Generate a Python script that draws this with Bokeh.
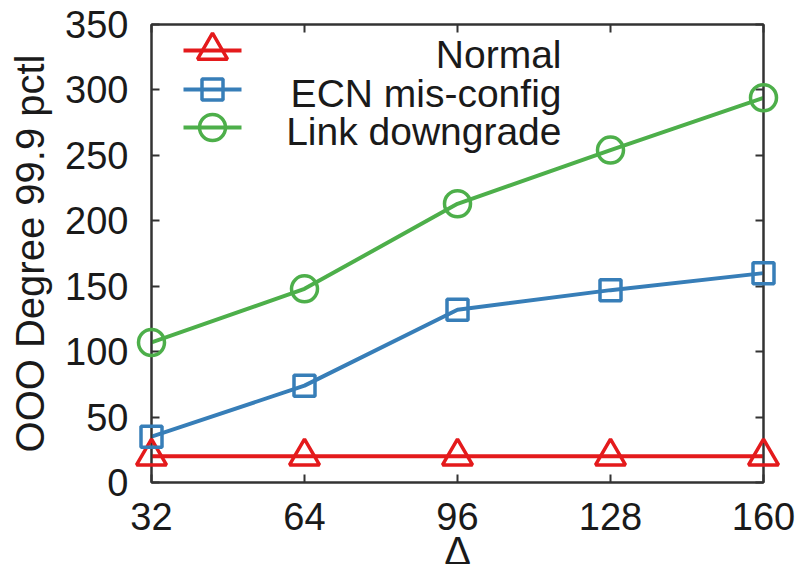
from bokeh.plotting import figure
from bokeh.models import FixedTicker, LinearAxis, Range1d, Label
from bokeh.core.properties import value
from bokeh.embed import file_html
from bokeh.resources import INLINE

# ---- data ----
deltas = [32, 64, 96, 128, 160]
normal = [20, 20, 20, 20, 20]
ecn_misconfig = [35, 74, 132, 147, 160]
link_downgrade = [107, 148, 213, 254, 294]
series_labels = ["Normal", "ECN mis-config", "Link downgrade"]
x_ticks = [32, 64, 96, 128, 160]
y_ticks = [0, 50, 100, 150, 200, 250, 300, 350]
x_label = "\u0394"
y_label = "OOO Degree 99.9 pctl"

FONT = "Liberation Sans"
FS = "38px"
TXT = "#1a1a1a"
AX = "#333333"
RED, BLUE, GREEN = "#e41a1c", "#377eb8", "#4daf4a"

W, H = 796, 564
BL, BR, BT, BB = 151, 33, 24, 82
FRAME_W, FRAME_H = W - BL - BR, H - BT - BB

x0, x1 = x_ticks[0], x_ticks[-1]
y0, y1 = y_ticks[0], y_ticks[-1]

p = figure(width=W, height=H, output_backend="svg", toolbar_location=None,
           x_range=Range1d(x0, x1), y_range=Range1d(y0, y1),
           min_border_left=BL, min_border_right=BR, min_border_top=BT, min_border_bottom=BB,
           x_axis_type=None, y_axis_type=None)
p.grid.visible = False
p.outline_line_color = AX
p.outline_line_width = 2
p.background_fill_color = "white"
p.border_fill_color = "white"


def style_axis(ax, labels=True):
    ax.axis_line_color = AX
    ax.axis_line_width = 2
    ax.major_tick_line_color = AX
    ax.major_tick_line_width = 2
    ax.major_tick_in = 8
    ax.major_tick_out = 0
    ax.minor_tick_line_color = None
    ax.major_label_text_font = FONT
    if labels:
        ax.major_label_text_color = TXT
        ax.major_label_text_font_size = FS
    else:
        ax.major_label_text_color = None
        ax.major_label_text_font_size = "1px"
        ax.major_label_standoff = 0
    ax.axis_label_text_font = FONT
    ax.axis_label_text_font_style = "normal"
    ax.axis_label_text_color = TXT
    ax.axis_label_text_font_size = "40px"


xb = LinearAxis(ticker=FixedTicker(ticks=x_ticks))
style_axis(xb)
xb.major_label_standoff = 20
p.add_layout(xb, "below")

yl = LinearAxis(ticker=FixedTicker(ticks=y_ticks), axis_label=y_label)
style_axis(yl)
yl.major_label_standoff = 23
yl.axis_label_standoff = 10
p.add_layout(yl, "left")

xt = LinearAxis(ticker=FixedTicker(ticks=x_ticks))
style_axis(xt, labels=False)
p.add_layout(xt, "above")

yr = LinearAxis(ticker=FixedTicker(ticks=y_ticks))
style_axis(yr, labels=False)
p.add_layout(yr, "right")


# helpers: pixel offsets inside the frame -> data units (for legend / title placement only)
def fx(px):
    return x0 + px / FRAME_W * (x1 - x0)


def fy(py):
    return y1 - py / FRAME_H * (y1 - y0)


series = [
    (normal, RED, "triangle", 30),
    (ecn_misconfig, BLUE, "square", 21),
    (link_downgrade, GREEN, "circle", 26),
]

# legend layout (pixels inside the frame)
LEG_ROWS = [26, 65, 103]
LEG_X0, LEG_X1 = 32, 90
LEG_TEXT_RIGHT = 410
LEG_BASELINE_DY = 4

for (vals, color, marker, size), name, row in zip(series, series_labels, LEG_ROWS):
    p.line(deltas, vals, line_color=color, line_width=4)
    p.scatter(deltas, vals, marker=marker, size=size, line_color=color,
              line_width=3.5, fill_alpha=0, level="overlay")
    # legend sample
    ly = fy(row)
    p.line([fx(LEG_X0), fx(LEG_X1)], [ly, ly], line_color=color, line_width=4)
    p.scatter([fx((LEG_X0 + LEG_X1) / 2)], [ly], marker=marker, size=size,
              line_color=color, line_width=3.5, fill_alpha=0)
    p.add_layout(Label(x=fx(LEG_TEXT_RIGHT), y=fy(row + LEG_BASELINE_DY), text=name,
                       text_font=FONT, text_font_size="39px", text_color=TXT,
                       text_align="right", text_baseline="alphabetic"))

# x-axis title (Delta) below the tick labels; a text glyph at overlay level (not clipped)
p.text(x=[(x0 + x1) / 2], y=[fy(FRAME_H + 68)], text=[x_label],
       text_font=value(FONT), text_font_size="40px", text_color=TXT,
       text_align="center", text_baseline="middle", level="overlay")

open("out.html", "w").write(file_html(p, INLINE))
